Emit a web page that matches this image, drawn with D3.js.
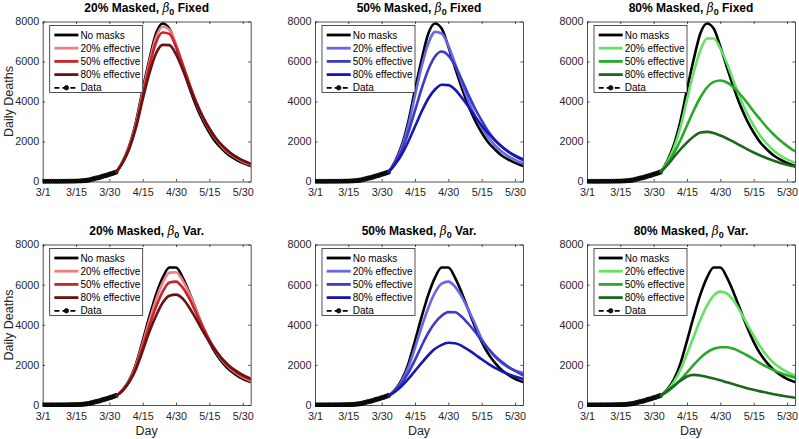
<!DOCTYPE html>
<html><head><meta charset="utf-8">
<script src="https://cdn.jsdelivr.net/npm/d3@7"></script>
<style>
body{margin:0;background:#fff;}
svg{display:block;font-family:"Liberation Sans",Arial,Helvetica,sans-serif;}
</style></head>
<body><svg id="c" width="799" height="439"></svg>
<script>
// ---------- data ----------
const tickDays = [0, 15, 30, 45, 60, 75, 90];
const tickLabels = ["3/1", "3/15", "3/30", "4/15", "4/30", "5/15", "5/30"];
const yTicks = [0, 2000, 4000, 6000, 8000];
const seriesNames = ["No masks", "20% effective", "50% effective", "80% effective"];

const dataDays = d3.range(0, 34);
const dataDeaths = [0,0,0,0,1,1,2,2,3,4,5,6,8,10,12,15,20,25,35,50,60,80,110,140,170,190,220,260,290,320,360,390,430,470];

const modelDays = [33,36,39,42,45,48,51,54,57,60,63,66,69,72,75,78,81,84,87,90,93,96];

// beta0 fixed
const noMasksFixed = [450,1000,1800,3000,4600,6100,7400,7900,7650,6750,5700,4700,3800,3050,2450,1950,1600,1300,1100,930,800,700];
const m20Fixed_e20 = [450,980,1750,2900,4450,5950,7200,7750,7600,6850,5850,4850,3950,3200,2600,2100,1700,1400,1180,1000,860,750];
const m20Fixed_e50 = [450,960,1700,2800,4300,5750,6950,7450,7380,6750,5850,4900,4000,3250,2650,2150,1750,1450,1220,1040,900,790];
const m20Fixed_e80 = [450,940,1650,2700,4100,5400,6400,6830,6820,6350,5600,4750,3950,3250,2650,2150,1780,1480,1240,1060,920,810];
const m50Fixed_e20 = [450,950,1700,2800,4300,5750,6900,7480,7400,6800,5900,4950,4050,3300,2700,2200,1800,1500,1260,1080,930,820];
const m50Fixed_e50 = [450,900,1550,2450,3550,4650,5600,6250,6500,6300,5800,5100,4350,3650,3050,2500,2080,1750,1480,1270,1100,970];
const m50Fixed_e80 = [450,850,1350,2000,2750,3500,4150,4600,4840,4820,4600,4200,3750,3250,2800,2400,2050,1750,1500,1300,1140,1000];
const m80Fixed_e20 = [450,940,1650,2700,4100,5450,6550,7150,7150,6650,5900,5000,4150,3400,2800,2280,1880,1550,1300,1110,960,840];
const m80Fixed_e50 = [450,850,1400,2050,2800,3550,4200,4700,4980,5050,4950,4700,4350,3950,3500,3100,2700,2350,2050,1780,1550,1380];
const m80Fixed_e80 = [450,800,1200,1600,1950,2250,2450,2480,2420,2300,2150,1980,1800,1620,1450,1300,1160,1040,930,840,760,700];

// beta0 variable
const noMasksVar = [450,750,1250,2050,3200,4400,5500,6350,6850,6850,6350,5600,4750,3900,3150,2550,2100,1750,1500,1300,1170,1050];
const m20Var_e20 = [450,740,1220,1980,3050,4200,5250,6100,6600,6620,6200,5550,4750,3950,3250,2650,2200,1850,1580,1380,1230,1100];
const m20Var_e50 = [450,730,1180,1900,2900,3950,4900,5650,6100,6150,5850,5300,4600,3900,3250,2700,2250,1900,1640,1440,1290,1160];
const m20Var_e80 = [450,720,1150,1800,2700,3650,4450,5100,5450,5500,5300,4850,4300,3700,3150,2680,2280,1950,1700,1500,1350,1220];
const m50Var_e20 = [450,730,1180,1880,2850,3900,4850,5600,6050,6150,5900,5400,4750,4050,3300,2800,2400,2100,1880,1720,1620,1530];
const m50Var_e50 = [450,700,1080,1600,2250,2950,3600,4100,4450,4630,4620,4400,4050,3650,3200,2800,2450,2150,1900,1700,1520,1380];
const m50Var_e80 = [450,660,950,1300,1700,2100,2480,2800,3000,3100,3080,2950,2750,2520,2280,2050,1850,1680,1530,1420,1320,1230];
const m80Var_e20 = [450,720,1130,1750,2550,3400,4250,4950,5450,5650,5550,5200,4650,4050,3450,2900,2450,2100,1850,1650,1500,1380];
const m80Var_e50 = [450,650,920,1250,1620,2000,2350,2620,2800,2880,2880,2800,2650,2480,2280,2080,1900,1740,1600,1480,1380,1290];
const m80Var_e80 = [450,700,950,1200,1420,1500,1470,1400,1320,1230,1130,1030,930,840,760,680,610,540,480,420,370,330];

const redColors = ["#000000", "#f08080", "#c8222a", "#6a1212"];
const blueColors = ["#000000", "#6767e8", "#3b3bc6", "#1616b2"];
const greenColors = ["#000000", "#62e462", "#2aa82a", "#1f661f"];

const panels = [
  {pct:"20%", kind:"Fixed", colors:redColors, series:[noMasksFixed, m20Fixed_e20, m20Fixed_e50, m20Fixed_e80]},
  {pct:"50%", kind:"Fixed", colors:blueColors, series:[noMasksFixed, m50Fixed_e20, m50Fixed_e50, m50Fixed_e80]},
  {pct:"80%", kind:"Fixed", colors:greenColors, series:[noMasksFixed, m80Fixed_e20, m80Fixed_e50, m80Fixed_e80]},
  {pct:"20%", kind:"Var.", colors:redColors, series:[noMasksVar, m20Var_e20, m20Var_e50, m20Var_e80]},
  {pct:"50%", kind:"Var.", colors:blueColors, series:[noMasksVar, m50Var_e20, m50Var_e50, m50Var_e80]},
  {pct:"80%", kind:"Var.", colors:greenColors, series:[noMasksVar, m80Var_e20, m80Var_e50, m80Var_e80]}
];

// ---------- layout ----------
const svg = d3.select("#c");
const lefts = [42.7, 315, 587];
const W = 208;
const rows = [{top:21.5, bottom:181.5}, {top:244.5, bottom:405}];
const axisColor = "#262626";

panels.forEach((p, i) => {
  const col = i % 3, row = Math.floor(i / 3);
  const x0 = lefts[col], top = rows[row].top, bot = rows[row].bottom;
  const x = d3.scaleLinear().domain([0, 93.6]).range([x0, x0 + W]);
  const y = d3.scaleLinear().domain([0, 8000]).range([bot, top]);
  const g = svg.append("g");
  const clipId = "clip" + i;
  svg.append("clipPath").attr("id", clipId).append("rect")
    .attr("x", x0).attr("y", top - 2).attr("width", W).attr("height", bot - top + 4);

  // axes
  const xb = g.append("g").attr("transform", `translate(0,${bot})`)
    .call(d3.axisBottom(x).tickValues(tickDays).tickFormat((d, k) => tickLabels[k]).tickSizeInner(-2.5).tickSizeOuter(0).tickPadding(7));
  const xt = g.append("g").attr("transform", `translate(0,${top})`)
    .call(d3.axisTop(x).tickValues(tickDays).tickFormat("").tickSizeInner(-2.5).tickSizeOuter(0));
  const yl = g.append("g").attr("transform", `translate(${x0},0)`)
    .call(d3.axisLeft(y).tickValues(yTicks).tickFormat(d3.format("d")).tickSizeInner(-2.5).tickSizeOuter(0).tickPadding(3.5));
  const yr = g.append("g").attr("transform", `translate(${x0 + W},0)`)
    .call(d3.axisRight(y).tickValues(yTicks).tickFormat("").tickSizeInner(-2.5).tickSizeOuter(0));
  [xb, xt, yl, yr].forEach(a => {
    a.select(".domain").attr("stroke", axisColor).attr("stroke-width", 0.8);
    a.selectAll(".tick line").attr("stroke", axisColor).attr("stroke-width", 0.8);
    a.selectAll("text").attr("fill", "#262626").style("font-size", "10.8px")
      .style("font-family", '"Liberation Sans",Arial,sans-serif');
  });

  const plot = g.append("g").attr("clip-path", `url(#${clipId})`);
  // data
  const dLine = d3.line().x((d, k) => x(dataDays[k])).y(d => y(d));
  plot.append("path").datum(dataDeaths).attr("d", dLine).attr("fill", "none")
    .attr("stroke", "#000").attr("stroke-width", 1.8).attr("stroke-dasharray", "5,3");
  plot.selectAll("circle.dp").data(dataDeaths).join("circle").attr("class", "dp")
    .attr("cx", (d, k) => x(dataDays[k])).attr("cy", d => y(d)).attr("r", 2.2)
    .attr("fill", "#111").attr("stroke", "#000").attr("stroke-width", 0.8);

  // model curves
  const mLine = d3.line().x((d, k) => x(modelDays[k])).y(d => y(d)).curve(d3.curveMonotoneX);
  p.series.forEach((s, k) => {
    plot.append("path").datum(s).attr("d", mLine).attr("fill", "none")
      .attr("stroke", p.colors[k]).attr("stroke-width", 2.6).attr("stroke-linejoin", "round");
  });

  // title
  const t = svg.append("text").attr("x", x0 + W / 2).attr("y", row === 0 ? 11.5 : 234.5)
    .attr("text-anchor", "middle").style("font-size", "12px").style("font-weight", "bold").attr("fill", "#000");
  t.append("tspan").text(p.pct + " Masked, ");
  t.append("tspan").text("β").style("font-style", "italic").style("font-weight", "normal")
    .style("font-family", '"DejaVu Serif",serif');
  t.append("tspan").text("0").attr("dy", 3).style("font-size", "9px");
  t.append("tspan").text(" " + p.kind).attr("dy", -3);

  // legend
  const lx = x0 + 7, ly = top + 4;
  const lg = svg.append("g");
  lg.append("rect").attr("x", lx).attr("y", ly).attr("width", 93).attr("height", 67)
    .attr("fill", "#fff").attr("stroke", "#262626").attr("stroke-width", 0.8);
  const names = seriesNames.concat(["Data"]);
  names.forEach((n, k) => {
    const yy = ly + 9.5 + k * 13.2;
    if (k < 4) {
      lg.append("line").attr("x1", lx + 4.7).attr("x2", lx + 28.7).attr("y1", yy).attr("y2", yy)
        .attr("stroke", p.colors[k]).attr("stroke-width", 2.8);
    } else {
      lg.append("line").attr("x1", lx + 4.7).attr("x2", lx + 28.7).attr("y1", yy).attr("y2", yy)
        .attr("stroke", "#000").attr("stroke-width", 1.8).attr("stroke-dasharray", "5,3");
      lg.append("circle").attr("cx", lx + 16.7).attr("cy", yy).attr("r", 2.2)
        .attr("fill", "#111").attr("stroke", "#000").attr("stroke-width", 0.8);
    }
    lg.append("text").attr("x", lx + 30.7).attr("y", yy + 3.6).text(n)
      .style("font-size", "10px").attr("fill", "#000");
  });
});

// axis labels
svg.append("text").attr("transform", "translate(13,101.5) rotate(-90)").attr("text-anchor", "middle")
  .style("font-size", "12.5px").attr("fill", "#262626").text("Daily Deaths");
svg.append("text").attr("transform", "translate(13,325) rotate(-90)").attr("text-anchor", "middle")
  .style("font-size", "12.5px").attr("fill", "#262626").text("Daily Deaths");
lefts.forEach(l => {
  svg.append("text").attr("x", l + W / 2).attr("y", 435).attr("text-anchor", "middle")
    .style("font-size", "12.5px").attr("fill", "#262626").text("Day");
});
</script></body></html>
